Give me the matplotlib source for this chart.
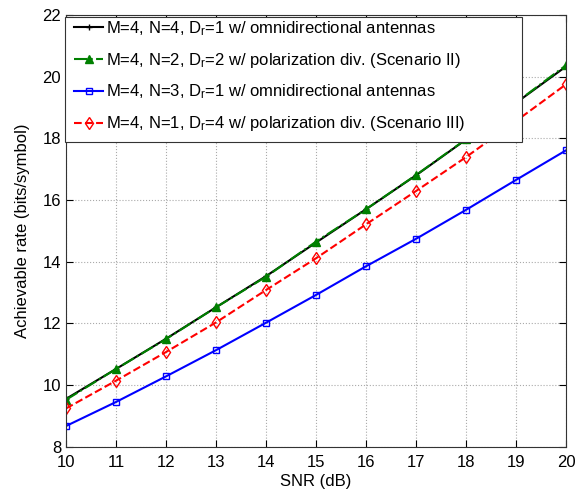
import matplotlib.pyplot as plt
from matplotlib.patches import Rectangle
import numpy as np

plt.rcParams['font.family'] = ['Liberation Sans', 'DejaVu Sans']
plt.rcParams['mathtext.fontset'] = 'custom'
plt.rcParams['mathtext.rm'] = 'Liberation Sans'
plt.rcParams['mathtext.it'] = 'Liberation Sans:italic'

# SNR in dB
snr = np.arange(10, 21)

# Achievable rate (bits/symbol)
rate_n4_omni = [9.55, 10.52, 11.50, 12.52, 13.53, 14.62, 15.70, 16.80, 17.96, 19.15, 20.33]
rate_n2_pol = [9.52, 10.52, 11.49, 12.52, 13.51, 14.65, 15.70, 16.81, 17.97, 19.16, 20.37]
rate_n3_omni = [8.67, 9.45, 10.28, 11.13, 12.02, 12.92, 13.85, 14.74, 15.68, 16.65, 17.61]
rate_n1_pol = [9.24, 10.14, 11.07, 12.03, 13.08, 14.11, 15.21, 16.29, 17.39, 18.56, 19.75]

labels = [r'M=4, N=4, D$_\mathrm{r}$=1 w/ omnidirectional antennas',
          r'M=4, N=2, D$_\mathrm{r}$=2 w/ polarization div. (Scenario II)',
          r'M=4, N=3, D$_\mathrm{r}$=1 w/ omnidirectional antennas',
          r'M=4, N=1, D$_\mathrm{r}$=4 w/ polarization div. (Scenario III)']

fig = plt.figure(figsize=(5.82, 4.96), dpi=100)
ax = fig.add_axes([0.1134, 0.0994, 0.8591, 0.8704])

ax.plot(snr, rate_n4_omni, '-', color='k', marker='+', markersize=5, lw=1.5, label=labels[0])
ax.plot(snr, rate_n2_pol, '-.', color=(0, 0.5, 0), marker='^', markersize=6,
        markerfacecolor=(0, 0.5, 0), lw=1.5, label=labels[1])
ax.plot(snr, rate_n3_omni, '-', color='b', marker='s', markersize=5,
        markerfacecolor='none', lw=1.5, label=labels[2])
ax.plot(snr, rate_n1_pol, '--', color='r', marker='d', markersize=6,
        markerfacecolor='none', lw=1.5, label=labels[3])

ax.set_xlim(10, 20)
ax.set_ylim(8, 22)
ax.set_xticks(np.arange(10, 21))
ax.set_yticks(np.arange(8, 23, 2))
ax.grid(True, linestyle=':', color='#aaaaaa', lw=0.8)
ax.tick_params(direction='in', labelsize=12, top=True, right=True, length=5)
ax.tick_params(axis='x', pad=6)
for s in ax.spines.values():
    s.set_color('#333333')

ax.set_xlabel('SNR (dB)', fontsize=12, labelpad=3)
ax.set_ylabel('Achievable rate (bits/symbol)', fontsize=12, labelpad=9)

# legend box is wider than its entries, so draw the frame separately
frame = Rectangle((65 / 582, 1 - 142 / 496), 457 / 582, 125 / 496,
                  transform=fig.transFigure, facecolor='white',
                  edgecolor='#333333', lw=0.8, zorder=4.5)
ax.add_patch(frame)
frame.set_clip_on(False)

leg = ax.legend(loc='upper left', bbox_to_anchor=(74 / 582, 1 - 19 / 496),
                bbox_transform=fig.transFigure, fontsize=12, handlelength=1.75,
                frameon=False, labelspacing=0.78, handletextpad=0.2,
                borderpad=0, borderaxespad=0)

plt.savefig('out.png', dpi=100)
